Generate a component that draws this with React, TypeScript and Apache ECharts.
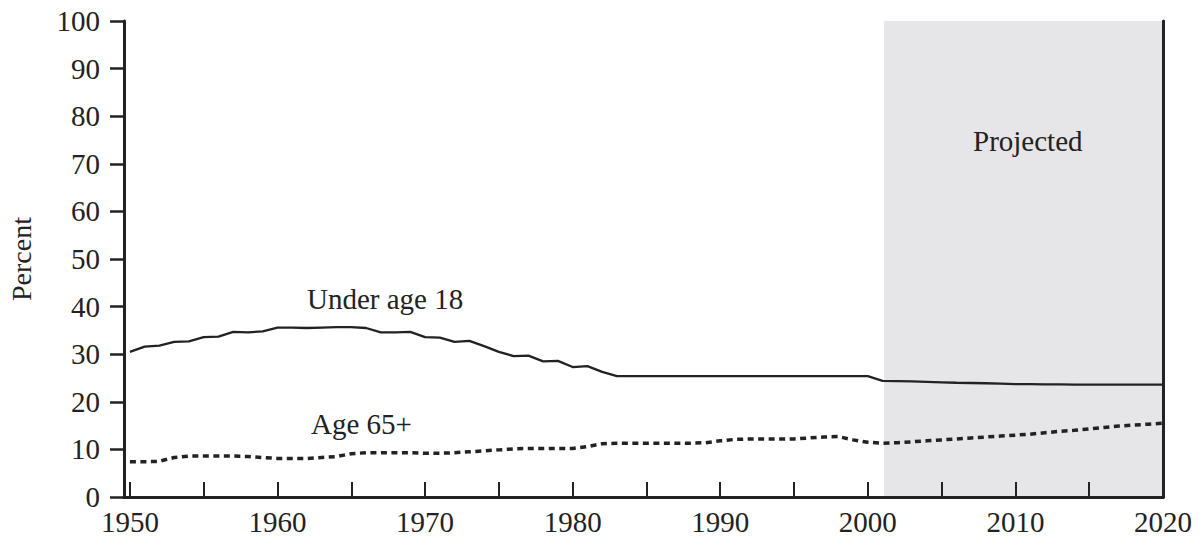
import React, { useEffect, useRef } from "react";
import * as echarts from "echarts";

const years: number[] = [];
for (let y = 1950; y <= 2020; y++) years.push(y);

const under18: number[] = [
  30.5, 31.6, 31.8, 32.6, 32.7, 33.6, 33.7, 34.7, 34.6, 34.8,
  35.6, 35.6, 35.5, 35.6, 35.7, 35.7, 35.5, 34.6, 34.6, 34.7,
  33.6, 33.5, 32.6, 32.8, 31.7, 30.5, 29.6, 29.7, 28.5, 28.6,
  27.3, 27.5, 26.3, 25.4, 25.4, 25.4, 25.4, 25.4, 25.4, 25.4,
  25.4, 25.4, 25.4, 25.4, 25.4, 25.4, 25.4, 25.4, 25.4, 25.4,
  25.4, 24.4, 24.35, 24.3, 24.2, 24.1, 24.0, 23.95, 23.9, 23.8,
  23.7, 23.7, 23.65, 23.65, 23.6, 23.6, 23.6, 23.6, 23.6, 23.6,
  23.6,
];

const age65: number[] = [
  7.4, 7.4, 7.5, 8.3, 8.6, 8.6, 8.6, 8.6, 8.5, 8.3,
  8.1, 8.1, 8.1, 8.3, 8.5, 9.1, 9.3, 9.3, 9.3, 9.3,
  9.2, 9.2, 9.3, 9.5, 9.7, 9.9, 10.1, 10.2, 10.2, 10.2,
  10.2, 10.6, 11.2, 11.3, 11.3, 11.3, 11.3, 11.3, 11.3, 11.4,
  11.8, 12.1, 12.2, 12.2, 12.2, 12.2, 12.4, 12.6, 12.7, 12.0,
  11.5, 11.3, 11.4, 11.6, 11.8, 12.0, 12.2, 12.4, 12.6, 12.8,
  13.0, 13.2, 13.5, 13.8, 14.0, 14.3, 14.6, 14.9, 15.1, 15.3,
  15.5,
];

const xTickValues = [1950, 1955, 1960, 1965, 1970, 1975, 1980, 1985, 1990, 1995, 2000, 2005, 2010, 2015];
const xLabelValues = [1950, 1960, 1970, 1980, 1990, 2000, 2010, 2020];
const projectedStart = 2001.1;
const projectedEnd = 2020;

const FONT = "'Liberation Serif', 'Times New Roman', serif";
const INK = "#222222";

export default function App() {
  const ref = useRef<HTMLDivElement>(null);
  useEffect(() => {
    document.body.style.margin = "0";
    if (!ref.current) return;
    const chart = echarts.init(ref.current, null, { renderer: "svg" });
    chart.setOption({
      animation: false,
      backgroundColor: "#ffffff",
      textStyle: { fontFamily: FONT },
      grid: { left: 124, top: 21, right: 38, bottom: 45, containLabel: false, outerBoundsMode: "none" },
      xAxis: [
        {
          type: "value",
          min: 1949.6,
          max: 2020,
          z: 5,
          axisLine: { show: true, lineStyle: { color: INK, width: 3 } },
          axisTick: {
            show: true,
            inside: true,
            length: 15,
            customValues: xTickValues,
            lineStyle: { color: INK, width: 2 },
          },
          axisLabel: {
            customValues: xLabelValues,
            fontFamily: FONT,
            fontSize: 29,
            color: INK,
            margin: 10,
            formatter: (v: number) => String(Math.round(v)),
          },
          splitLine: { show: false },
        },
        {
          type: "value",
          position: "top",
          min: 1949.6,
          max: 2020,
          z: 5,
          axisLine: { show: true, lineStyle: { color: INK, width: 3 } },
          axisTick: { show: false },
          axisLabel: { show: false },
          splitLine: { show: false },
        },
      ],
      yAxis: [
        {
          type: "value",
          min: 0,
          max: 100,
          interval: 10,
          z: 5,
          name: "Percent",
          nameLocation: "middle",
          nameRotate: 90,
          nameGap: 89,
          nameTextStyle: { fontFamily: FONT, fontSize: 28, color: INK },
          axisLine: { show: true, lineStyle: { color: INK, width: 3 } },
          axisTick: { show: true, inside: false, length: 14, lineStyle: { color: INK, width: 2.5 } },
          axisLabel: { fontFamily: FONT, fontSize: 29, color: INK, margin: 24 },
          splitLine: { show: false },
        },
        {
          type: "value",
          position: "right",
          min: 0,
          max: 100,
          interval: 10,
          z: 5,
          axisLine: { show: true, lineStyle: { color: INK, width: 3 } },
          axisTick: { show: false },
          axisLabel: { show: false },
          splitLine: { show: false },
        },
      ],
      series: [
        {
          name: "Under age 18",
          type: "line",
          xAxisIndex: 0,
          yAxisIndex: 0,
          data: years.map((y, i) => [y, under18[i]]),
          showSymbol: false,
          symbol: "none",
          lineStyle: { color: INK, width: 2.3 },
          z: 3,
          markArea: {
            silent: true,
            itemStyle: { color: "#e6e6e8" },
            data: [[{ xAxis: projectedStart }, { xAxis: projectedEnd }]],
          },
        },
        {
          name: "Age 65+",
          type: "line",
          xAxisIndex: 0,
          yAxisIndex: 0,
          data: years.map((y, i) => [y, age65[i]]),
          showSymbol: false,
          symbol: "none",
          lineStyle: { color: INK, width: 3.5, type: [6, 4.5], cap: "butt" },
          z: 3,
        },
      ],
      graphic: [
        {
          type: "text",
          left: 307,
          top: 284,
          z: 20,
          style: { text: "Under age 18", fontFamily: FONT, fontSize: 29, fill: INK },
        },
        {
          type: "text",
          left: 311,
          top: 409,
          z: 20,
          style: { text: "Age 65+", fontFamily: FONT, fontSize: 29, fill: INK },
        },
        {
          type: "text",
          left: 973,
          top: 126,
          z: 20,
          style: { text: "Projected", fontFamily: FONT, fontSize: 29, fill: INK },
        },
      ],
    });
    return () => chart.dispose();
  }, []);
  return <div ref={ref} style={{ width: 1201, height: 542 }} />;
}
